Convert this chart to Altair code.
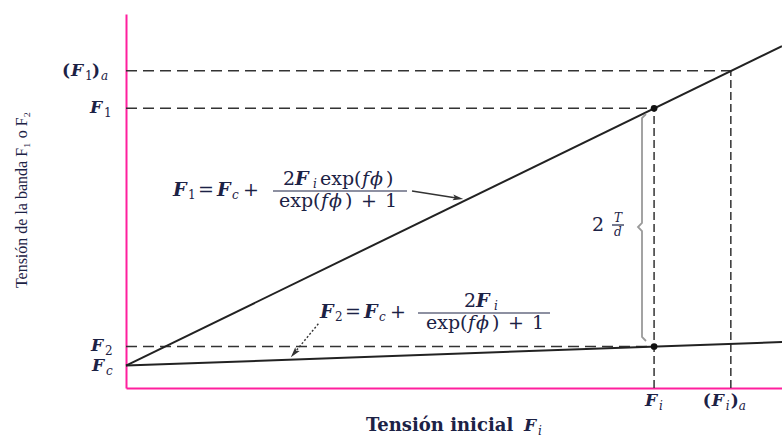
import math
import altair as alt
import pandas as pd

# ---------------- values ----------------
FI_ENDS = [0.0, 100.0]      # initial tension Fi at the two ends of the plot
F1_ENDS = [6.0, 91.4]       # tight-side tension F1 along Fi
F2_ENDS = [6.0, 12.3]       # slack-side tension F2 along Fi
FC = 6.0                    # centrifugal tension Fc
FI = 80.5                   # operating initial tension Fi
FI_A = 92.2                 # allowable initial tension (Fi)a
F1 = 74.8                   # F1 at Fi
F1_A = 84.8                 # allowable (F1)a
F2 = 11.1                   # F2 at Fi

# ---------------- layout ----------------
W, H = 782, 438
PL, PT, PW, PH = 126, 14, 656, 374
XD = (0.0, 100.0)
YD = (0.0, 100.0)

INK = "#1c2245"
LINE = "#222222"
DASH = "#333333"
MAGENTA = "#ff1f9e"


def x_px(v):
    return PL + (v - XD[0]) / (XD[1] - XD[0]) * PW


def y_px(v):
    return PT + PH - (v - YD[0]) / (YD[1] - YD[0]) * PH


def x_val(px):
    return XD[0] + (px - PL) / PW * (XD[1] - XD[0])


def y_val(py):
    return YD[0] + (PT + PH - py) / PH * (YD[1] - YD[0])


xs = alt.Scale(domain=list(XD), nice=False, zero=False)
ys = alt.Scale(domain=list(YD), nice=False, zero=False)


def X(f):
    return alt.X(f, type="quantitative", scale=xs, title=None)


def Y(f):
    return alt.Y(f, type="quantitative", scale=ys, title=None)


# ---------------- tension lines ----------------
lines_df = pd.DataFrame(
    [{"s": "F1", "x": x, "y": y} for x, y in zip(FI_ENDS, F1_ENDS)]
    + [{"s": "F2", "x": x, "y": y} for x, y in zip(FI_ENDS, F2_ENDS)]
)
lines = alt.Chart(lines_df).mark_line(color=LINE, strokeWidth=2).encode(
    x=X("x"), y=Y("y"), detail="s:N"
)

# ---------------- dashed reference lines ----------------
h_ref = pd.DataFrame({
    "x": [0.0, 0.0, 0.0],
    "x2": [FI_A, FI, FI],
    "y": [F1_A, F1, F2],
})
v_ref = pd.DataFrame({
    "x": [FI, FI_A],
    "y": [0.0, 0.0],
    "y2": [F1, F1_A],
})
h_rules = alt.Chart(h_ref).mark_rule(color=DASH, strokeWidth=1.5, strokeDash=[11, 6]).encode(
    x=X("x"), x2="x2:Q", y=Y("y")
)
v_rules = alt.Chart(v_ref).mark_rule(color=DASH, strokeWidth=1.5, strokeDash=[8, 4]).encode(
    x=X("x"), y=Y("y"), y2="y2:Q"
)

# ---------------- operating points ----------------
pts_df = pd.DataFrame({"x": [FI, FI], "y": [F1, F2]})
dots = alt.Chart(pts_df).mark_point(filled=True, color="#111111", opacity=1, size=45).encode(
    x=X("x"), y=Y("y")
)

# ---------------- brace marking 2T/d ----------------
brace_px = [(646, 114), (642, 118), (642, 223), (638, 227), (642, 231), (642, 337), (646, 341)]
brace_df = pd.DataFrame(
    [{"o": i, "x": x_val(px), "y": y_val(py)} for i, (px, py) in enumerate(brace_px)]
)
brace = alt.Chart(brace_df).mark_line(color="#9a9a9a", strokeWidth=1.8).encode(
    x=X("x"), y=Y("y"), order="o:Q"
)

# ---------------- leader arrows to the formulas ----------------
ARROW_HEAD = "M0,-1L0.55,1L0,0.6L-0.55,1Z"
arrows_px = [
    ("F1", (412, 191), (463, 199), []),
    ("F2", (319, 323), (291, 357), [2, 2]),
]
arrow_layers = []
for name, (tx, ty), (hx, hy), dash in arrows_px:
    dx, dy = hx - tx, hy - ty
    ln = math.hypot(dx, dy)
    ux, uy = dx / ln, dy / ln
    seg = pd.DataFrame({"x": [x_val(tx), x_val(hx - ux * 5)], "y": [y_val(ty), y_val(hy - uy * 5)]})
    kw = dict(color=DASH, strokeWidth=1.4)
    if dash:
        kw["strokeDash"] = dash
    arrow_layers.append(alt.Chart(seg).mark_line(**kw).encode(x=X("x"), y=Y("y")))
    ang = math.degrees(math.atan2(dx, -dy)) % 360
    cx, cy = hx - ux * 5, hy - uy * 5
    head = pd.DataFrame({"x": [x_val(cx)], "y": [y_val(cy)], "a": [ang]})
    arrow_layers.append(
        alt.Chart(head).mark_point(shape=ARROW_HEAD, filled=True, color=DASH, opacity=1,
                                   size=110, strokeWidth=0).encode(
            x=X("x"), y=Y("y"), angle=alt.Angle("a:Q", scale=None)
        )
    )

# ---------------- fraction bars ----------------
bars_px = [
    (173 + 100, 173 + 234, 191),   # F1 formula
    (320 + 98, 320 + 230, 313),    # F2 formula
    (612, 624, 225),               # T/d
]
bars_df = pd.DataFrame(
    [{"x": x_val(a), "x2": x_val(b), "y": y_val(c)} for a, b, c in bars_px]
)
frac_bars = alt.Chart(bars_df).mark_rule(color=INK, strokeWidth=1.2).encode(
    x=X("x"), x2="x2:Q", y=Y("y")
)

# ---------------- text pieces ----------------
pieces = []


def put(text, kind, px, py):
    pieces.append({"t": text, "k": kind, "x": x_val(px), "y": y_val(py)})


MAIN = [("F", "bi", 0, 0), ("1", "sub", 15, 5), ("=", "rm", 25, 0),
        ("F", "bi", 44, 0), ("c", "subit", 59, 5), ("+", "rm", 70, 0)]
DEN = [("exp(", "rm", 106, 11), ("f", "it", 148, 11), ("ϕ", "it", 156, 11),
       (")", "rm", 172, 11), ("+", "rm", 188, 11), ("1", "rm", 212, 11)]
NUM1 = [("2", "rm", 110, -11), ("F", "bi", 122, -11), ("i", "subit", 140, -6),
        ("exp(", "rm", 147, -11), ("f", "it", 189, -11), ("ϕ", "it", 197, -11),
        (")", "rm", 213, -11)]
NUM2 = [("2", "rm", 144, -11), ("F", "bi", 156, -11), ("i", "subit", 174, -6)]

for ax, ay, num, sub in [(173, 190, NUM1, "1"), (320, 312, NUM2, "2")]:
    for t, k, dx, dy in MAIN:
        put(sub if (k == "sub") else t, k, ax + dx, ay + dy)
    for t, k, dx, dy in num + DEN:
        put(t, k, ax + dx, ay + dy)

# 2 T/d next to the brace
put("2", "rm", 592, 225)
put("T", "subit", 614, 218)
put("d", "subit", 614, 232)

# value labels on the tension axis
for parts, val in [
    ([("(", "lrm", -64), ("F", "lbi", -55), ("1", "sub", -41), (")", "lrm", -34), ("a", "subit", -25)], F1_A),
    ([("F", "lbi", -36), ("1", "sub", -22)], F1),
    ([("F", "lbi", -35), ("2", "sub", -21)], F2),
    ([("F", "lbi", -34), ("c", "subit", -20)], FC),
]:
    base = y_px(val)
    for t, k, dx in parts:
        put(t, k, PL + dx, base + (5 if k.startswith("sub") else 0))

# value labels on the initial-tension axis
for parts, val in [
    ([("F", "lbi", -9), ("i", "subit", 5)], FI),
    ([("(", "lrm", -28), ("F", "lbi", -19), ("i", "subit", -5), (")", "lrm", 0), ("a", "subit", 8)], FI_A),
]:
    base = x_px(val)
    for t, k, dx in parts:
        put(t, k, base + dx, 401 + (5 if k.startswith("sub") else 0))

# x-axis title
put("Tensión inicial", "title", 366, 426)
put("F", "lbi", 524, 426)
put("i", "subit", 538, 431)

pieces_df = pd.DataFrame(pieces)

STYLES = {
    "bi": dict(fontSize=19, fontStyle="italic", fontWeight="bold"),
    "rm": dict(fontSize=19, fontStyle="normal", fontWeight="normal"),
    "it": dict(fontSize=19, fontStyle="italic", fontWeight="normal"),
    "lbi": dict(fontSize=17, fontStyle="italic", fontWeight="bold"),
    "lrm": dict(fontSize=17, fontStyle="normal", fontWeight="bold"),
    "sub": dict(fontSize=12, fontStyle="normal", fontWeight="normal"),
    "subit": dict(fontSize=12, fontStyle="italic", fontWeight="normal"),
    "title": dict(fontSize=18, fontStyle="normal", fontWeight="bold"),
}
text_layers = []
for kind, st in STYLES.items():
    text_layers.append(
        alt.Chart(pieces_df).transform_filter(alt.datum.k == kind).mark_text(
            font="DejaVu Serif", color=INK, align="left", baseline="middle", **st
        ).encode(x=X("x"), y=Y("y"), text="t:N")
    )

# y-axis title, rotated
ytitle_df = pd.DataFrame({"t": ["Tensión de la banda F₁ o F₂"], "x": [x_val(22)], "y": [y_val(200)]})
ytitle = alt.Chart(ytitle_df).mark_text(
    font="Liberation Serif", fontSize=16, color=INK, angle=270, align="center", baseline="middle"
).encode(x=X("x"), y=Y("y"), text="t:N")

chart = alt.layer(
    h_rules, v_rules, lines, brace, frac_bars, *arrow_layers, dots, *text_layers, ytitle
).properties(
    width=PW,
    height=PH,
    padding={"left": PL, "top": PT, "right": W - PL - PW, "bottom": H - PT - PH},
    autosize=alt.AutoSizeParams(type="none"),
).configure_view(
    stroke=None
).configure_axis(
    labels=False, ticks=False, grid=False, domainColor=MAGENTA, domainWidth=2
)

chart.save("out.html", embed_options={"renderer": "svg", "actions": False})
